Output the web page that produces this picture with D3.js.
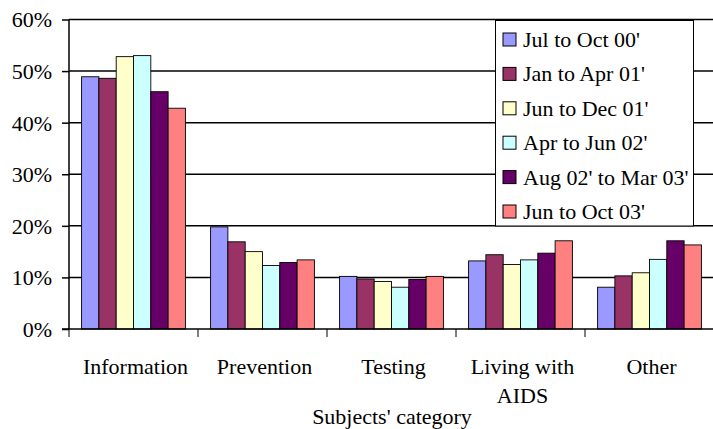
<!DOCTYPE html>
<html><head><meta charset="utf-8">
<script src="https://cdn.jsdelivr.net/npm/d3@7"></script>
<style>body{margin:0;background:#fff}svg{display:block}svg text{font-family:'Times New Roman'}</style>
</head><body><svg id="c" width="713" height="429"></svg>
<script>
const categories = ["Information", "Prevention", "Testing", "Living with AIDS", "Other"];
const series = ["Jul to Oct 00'", "Jan to Apr 01'", "Jun to Dec 01'", "Apr to Jun 02'", "Aug 02' to Mar 03'", "Jun to Oct 03'"];
const colors = ["#9999FF", "#993366", "#FFFFCC", "#CCFFFF", "#660066", "#FF8080"];
const jul00 = [48.9, 19.8, 10.2, 13.2, 8.1];
const jan01 = [48.6, 16.9, 9.7, 14.4, 10.3];
const jun01 = [52.8, 15.0, 9.2, 12.5, 10.9];
const apr02 = [53.0, 12.3, 8.1, 13.4, 13.5];
const aug02 = [46.0, 12.9, 9.6, 14.7, 17.1];
const jun03 = [42.8, 13.4, 10.2, 17.1, 16.3];
const values = [jul00, jan01, jun01, apr02, aug02, jun03];
const yTicks = [0, 10, 20, 30, 40, 50, 60];

const FONT = "Times New Roman";
const FS = 22;
const svg = d3.select("#c");
const m = {l: 69, r: 713, t: 19.5, b: 329};
const x = d3.scaleBand().domain(categories).range([m.l, m.r + 1]);
const y = d3.scaleLinear().domain([0, 60]).range([m.b, m.t]);
const inner = d3.scaleBand().domain(series).range([0, x.bandwidth() * 0.805]);
const off = (x.bandwidth() - x.bandwidth() * 0.805) / 2;

// gridlines
svg.append("g").selectAll("line").data(yTicks.slice(1)).join("line")
  .attr("x1", m.l).attr("x2", 713).attr("y1", d => y(d)).attr("y2", d => y(d))
  .attr("stroke", "#000").attr("stroke-width", 1.5);

// bars
series.forEach((s, i) => {
  svg.append("g").selectAll("rect").data(categories).join("rect")
    .attr("x", c => x(c) + off + inner(s))
    .attr("y", (c, j) => y(values[i][j]))
    .attr("width", inner.bandwidth())
    .attr("height", (c, j) => y(0) - y(values[i][j]))
    .attr("fill", colors[i]).attr("stroke", "#000").attr("stroke-width", 0.9);
});

// y axis
const ya = svg.append("g").attr("transform", `translate(${m.l},0)`)
  .call(d3.axisLeft(y).tickValues(yTicks).tickFormat(d => d + "%").tickSize(7).tickPadding(10));
ya.attr("font-family", FONT).attr("font-size", FS);
ya.select(".domain").attr("stroke-width", 1.5).attr("d", `M0,${m.t}V${m.b}`);
ya.selectAll(".tick line").attr("stroke-width", 1.5);
ya.selectAll("text").attr("dy", "0.34em").attr("fill", "#000");

// x axis
const xa = svg.append("g").attr("transform", `translate(0,${m.b})`)
  .attr("font-family", FONT).attr("font-size", FS);
xa.append("line").attr("x1", m.l - 7).attr("x2", 713).attr("stroke", "#000").attr("stroke-width", 1.5);
const bounds = categories.map(c => x(c));
xa.selectAll("line.t").data(bounds).join("line").attr("class", "t")
  .attr("x1", d => d).attr("x2", d => d).attr("y1", 0).attr("y2", 8)
  .attr("stroke", "#000").attr("stroke-width", 1);
const lbl = xa.selectAll("text").data(categories).join("text")
  .attr("text-anchor", "middle")
  .attr("x", c => x(c) + x.bandwidth() / 2 + 2).attr("y", 45);
lbl.each(function(c) {
  const t = d3.select(this);
  const parts = c === "Living with AIDS" ? ["Living with", "AIDS"] : [c];
  parts.forEach((p, k) => t.append("tspan").attr("x", x(c) + x.bandwidth() / 2 + 2).attr("dy", k ? 29 : 0).text(p));
});
svg.append("text").attr("x", 392).attr("y", 424).attr("text-anchor", "middle")
  .attr("font-family", FONT).attr("font-size", FS).text("Subjects' category");

// legend
const lg = svg.append("g").attr("font-family", FONT).attr("font-size", FS);
lg.append("rect").attr("x", 495.5).attr("y", 20.5).attr("width", 198).attr("height", 205.5)
  .attr("fill", "#fff").attr("stroke", "#000").attr("stroke-width", 1);
series.forEach((s, i) => {
  const cy = 40 + i * 34.4;
  lg.append("rect").attr("x", 503).attr("y", cy - 7).attr("width", 13).attr("height", 13)
    .attr("fill", colors[i]).attr("stroke", "#000").attr("stroke-width", 1);
  lg.append("text").attr("x", 523).attr("y", cy + 7).text(s);
});
</script></body></html>
